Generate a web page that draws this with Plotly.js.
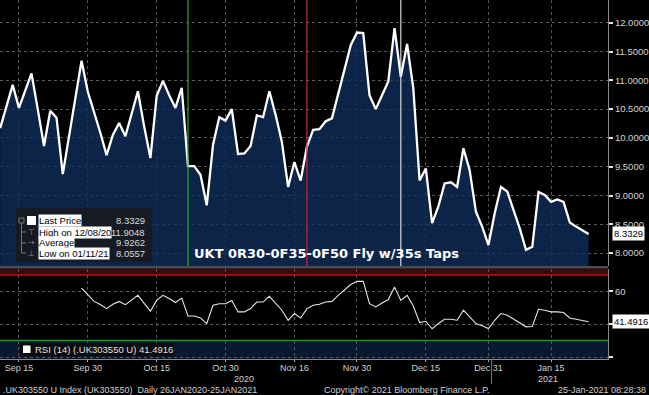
<!DOCTYPE html>
<html>
<head>
<meta charset="utf-8">
<script src="https://cdn.plot.ly/plotly-3.0.1.min.js"></script>
<style>html,body{margin:0;padding:0;background:#000;}#chart{width:649px;height:395px;}</style>
</head>
<body>
<div id="chart"></div>
<script>
// ---- data ----
const dates = [
 '2020-09-10','2020-09-11','2020-09-14','2020-09-15','2020-09-16','2020-09-17','2020-09-18',
 '2020-09-21','2020-09-22','2020-09-23','2020-09-24','2020-09-25','2020-09-28','2020-09-29','2020-09-30',
 '2020-10-01','2020-10-02','2020-10-05','2020-10-06','2020-10-07','2020-10-08','2020-10-09',
 '2020-10-12','2020-10-13','2020-10-14','2020-10-15','2020-10-16','2020-10-19','2020-10-20','2020-10-21',
 '2020-10-22','2020-10-23','2020-10-26','2020-10-27','2020-10-28','2020-10-29','2020-10-30',
 '2020-11-02','2020-11-03','2020-11-04','2020-11-05','2020-11-06','2020-11-09','2020-11-10','2020-11-11',
 '2020-11-12','2020-11-13','2020-11-16','2020-11-17','2020-11-18','2020-11-19','2020-11-20',
 '2020-11-23','2020-11-24','2020-11-25','2020-11-26','2020-11-27','2020-11-30',
 '2020-12-01','2020-12-02','2020-12-03','2020-12-04','2020-12-07','2020-12-08','2020-12-09','2020-12-10',
 '2020-12-11','2020-12-14','2020-12-15','2020-12-16','2020-12-17','2020-12-18','2020-12-21','2020-12-22',
 '2020-12-23','2020-12-24','2020-12-29','2020-12-30','2020-12-31',
 '2021-01-04','2021-01-05','2021-01-06','2021-01-07','2021-01-08','2021-01-11','2021-01-12','2021-01-13',
 '2021-01-14','2021-01-15','2021-01-18','2021-01-19','2021-01-20','2021-01-21','2021-01-22','2021-01-25'
];
const lastPrice = [
 10.17,10.55,10.92,10.52,10.83,11.12,10.50,9.86,10.47,10.35,9.37,10.03,10.68,11.34,10.80,
 10.45,10.09,9.70,10.05,10.26,10.03,10.42,10.81,10.20,9.65,10.73,10.99,10.74,10.52,10.87,
 9.51,9.51,9.36,8.83,9.88,10.36,10.30,10.50,9.72,9.73,9.86,10.39,10.36,10.81,10.40,
 9.93,9.15,9.58,9.26,9.85,10.14,10.15,10.29,10.34,10.75,11.15,11.61,11.83,11.82,10.74,
 10.50,10.74,10.98,11.9048,11.06,11.63,10.86,9.26,9.47,8.52,8.81,9.21,9.23,9.15,9.82,
 9.44,8.72,8.46,8.14,8.69,9.15,9.07,8.75,8.43,8.0557,8.11,9.06,9.01,8.89,8.93,
 8.89,8.53,8.46,8.40,8.3329
];
const rsi14 = [
 null,null,null,null,null,null,null,null,null,null,null,null,null,62.0,57.6,
 53.9,52.0,49.5,52.1,53.9,51.9,55.0,57.6,52.7,47.9,54.5,57.6,55.6,53.2,55.9,
 45.0,45.0,43.8,40.4,51.5,52.5,52.5,54.5,47.5,47.5,49.5,53.5,53.5,57.0,52.5,
 48.5,42.4,46.5,43.8,49.5,51.5,52.1,53.5,53.9,57.6,61.2,64.2,66.1,66.1,52.5,
 50.5,52.9,55.0,62.6,54.5,57.6,51.1,41.0,41.8,37.2,40.4,43.0,43.0,42.4,48.5,
 44.4,40.4,39.0,37.4,42.4,46.5,45.5,43.0,40.4,38.4,38.6,49.1,48.5,47.5,47.5,
 47.1,43.8,42.8,42.2,41.4916
];
const xTickVals = ['2020-09-15','2020-09-30','2020-10-15','2020-10-30','2020-11-16','2020-11-30','2020-12-15','2020-12-31','2021-01-15'];
const xTickText = ['Sep 15','Sep 30','Oct 15','Oct 30','Nov 16','Nov 30','Dec 15','Dec 31','Jan 15'];
const yTickVals = [8.0,8.5,9.0,9.5,10.0,10.5,11.0,11.5,12.0];
const rsiTickVals = [20,40,60];
const rsiTickText = ['','','60'];
const eventDates = ['2020-10-22','2020-11-18','2020-12-09'];
const eventColors = ['#22b022','#c8283c','#d8d8d8'];
const legendLabels = ['Last Price','High on 12/08/20','Average','Low on 01/11/21'];
const legendValues = ['8.3329','11.9048','9.9262','8.0557'];
const titleText = 'UKT 0R30-0F35-0F50 Fly w/35s Taps';

// ---- layout helpers (pixel -> paper) ----
const PW = 608, PH = 359;
const px = x => x / PW;
const py = y => (PH - y) / PH;
const F = 'Liberation Sans, Arial, sans-serif';

const shapes = [];
const ann = [];

// separator between panels
shapes.push({type:'rect', xref:'paper', yref:'paper', x0:0, x1:1, y0:py(268.5), y1:py(266), fillcolor:'#4a4d52', line:{width:0}, layer:'above'});
// RSI bands
shapes.push({type:'rect', xref:'paper', yref:'y2', x0:0, x1:1, y0:70, y1:74, fillcolor:'#3a0a0c', line:{width:0}, layer:'below'});
shapes.push({type:'rect', xref:'paper', yref:'y2', x0:0, x1:1, y0:18.79, y1:30, fillcolor:'#0a1830', line:{width:0}, layer:'below'});
shapes.push({type:'line', xref:'paper', yref:'y2', x0:0, x1:1, y0:70, y1:70, line:{color:'#b81414', width:1.5}});
shapes.push({type:'line', xref:'paper', yref:'y2', x0:0, x1:1, y0:30, y1:30, line:{color:'#1c9c1c', width:1.5}});
// event lines in the main panel
eventDates.forEach((d,i) => {
  shapes.push({type:'line', xref:'x', yref:'paper', x0:d, x1:d, y0:py(266), y1:1, line:{color:eventColors[i], width:1.2}, layer:'above'});
});
// year separator
shapes.push({type:'line', xref:'x', yref:'paper', x0:78.5, x1:78.5, y0:py(359), y1:py(384), line:{color:'#777', width:1}});

// legend box
shapes.push({type:'rect', xref:'paper', yref:'paper', x0:px(16), x1:px(152), y0:py(262), y1:py(208), fillcolor:'rgba(24,27,33,0.92)', line:{width:0}, layer:'above'});
shapes.push({type:'rect', xref:'paper', yref:'paper', x0:px(27), x1:px(36), y0:py(225), y1:py(216), fillcolor:'#ffffff', line:{width:0}, layer:'above'});
shapes.push({type:'rect', xref:'paper', yref:'paper', x0:px(19), x1:px(24), y0:py(223), y1:py(218), fillcolor:'rgba(0,0,0,0)', line:{color:'#777', width:1}, layer:'above'});
shapes.push({type:'line', xref:'paper', yref:'paper', x0:px(21.5), x1:px(21.5), y0:py(253), y1:py(223), line:{color:'#777', width:1}, layer:'above'});
[232,243,253].forEach(y => shapes.push({type:'line', xref:'paper', yref:'paper', x0:px(21.5), x1:px(26), y0:py(y), y1:py(y), line:{color:'#777', width:1}, layer:'above'}));
const rowsY = [220.7, 232, 242.7, 253.3];
const glyphs = ['', '⊤', '→', '⊥'];
legendLabels.forEach((t,i) => {
  ann.push({xref:'paper', yref:'paper', x:px(38), y:py(rowsY[i]), xanchor:'left', yanchor:'middle', text:t, showarrow:false,
    font:{family:F, size:9.5, color:'#000'}, bgcolor:'#ffffff', borderpad:0});
  ann.push({xref:'paper', yref:'paper', x:px(147), y:py(rowsY[i]), xanchor:'right', yanchor:'middle', text:legendValues[i], showarrow:false,
    font:{family:F, size:9.5, color:'#d8d8d8'}});
  if (glyphs[i]) ann.push({xref:'paper', yref:'paper', x:px(31), y:py(rowsY[i]), xanchor:'center', yanchor:'middle', text:glyphs[i], showarrow:false,
    font:{family:'DejaVu Sans', size:8, color:'#888'}});
});

// title
ann.push({xref:'paper', yref:'paper', x:px(326), y:py(253), xanchor:'center', yanchor:'middle', text:'<b>'+titleText+'</b>', showarrow:false,
  font:{family:'DejaVu Sans', size:13, color:'#ffffff'}});

// last value labels
ann.push({xref:'paper', yref:'y', x:px(612), y:lastPrice[lastPrice.length-1], xanchor:'left', yanchor:'middle', text:'8.3329', showarrow:false,
  font:{family:F, size:9.5, color:'#000'}, bgcolor:'#ffffff', borderpad:1});
ann.push({xref:'paper', yref:'y2', x:px(612), y:rsi14[rsi14.length-1], xanchor:'left', yanchor:'middle', text:'41.4916', showarrow:false,
  font:{family:F, size:9.5, color:'#000'}, bgcolor:'#ffffff', borderpad:1});

// RSI legend
shapes.push({type:'rect', xref:'paper', yref:'paper', x0:px(20), x1:px(174), y0:py(356), y1:py(343), fillcolor:'#0c0c0e', line:{width:0}, layer:'above'});
shapes.push({type:'rect', xref:'paper', yref:'paper', x0:px(23), x1:px(30.5), y0:py(353), y1:py(345.5), fillcolor:'#ffffff', line:{width:0}, layer:'above'});
ann.push({xref:'paper', yref:'paper', x:px(33), y:py(349.5), xanchor:'left', yanchor:'middle', text:'RSI (14) (.UK303550 U) 41.4916', showarrow:false,
  font:{family:F, size:9.5, color:'#e0e0e0'}});

// year labels
ann.push({xref:'paper', yref:'paper', x:px(244), y:py(379), xanchor:'center', yanchor:'middle', text:'2020', showarrow:false, font:{family:F, size:9, color:'#d0d0d0'}});
ann.push({xref:'paper', yref:'paper', x:px(548), y:py(379), xanchor:'center', yanchor:'middle', text:'2021', showarrow:false, font:{family:F, size:9, color:'#d0d0d0'}});

// footer
ann.push({xref:'paper', yref:'paper', x:px(1), y:py(389.5), xanchor:'left', yanchor:'middle', text:'.UK303550 U Index (UK303550)  Daily 26JAN2020-25JAN2021', showarrow:false, font:{family:F, size:9, color:'#d0d0d0'}});
ann.push({xref:'paper', yref:'paper', x:px(322), y:py(389.5), xanchor:'left', yanchor:'middle', text:'Copyright© 2021 Bloomberg Finance L.P.', showarrow:false, font:{family:F, size:9, color:'#d0d0d0'}});
ann.push({xref:'paper', yref:'paper', x:px(648), y:py(389.5), xanchor:'right', yanchor:'middle', text:'25-Jan-2021 08:28:38', showarrow:false, font:{family:F, size:9, color:'#d0d0d0'}});

const traces = [
  {x:dates, y:lastPrice, type:'scatter', mode:'lines', fill:'tozeroy', fillcolor:'rgba(15,45,90,0.8)',
   line:{color:'#ffffff', width:2.3}, xaxis:'x', yaxis:'y', hoverinfo:'skip'},
  {x:dates, y:rsi14, type:'scatter', mode:'lines', line:{color:'#e6e6e6', width:1.1},
   xaxis:'x', yaxis:'y2', hoverinfo:'skip', connectgaps:false}
];

const layout = {
  width:649, height:395,
  margin:{l:0, r:41, t:0, b:36, pad:0},
  paper_bgcolor:'#000', plot_bgcolor:'#000',
  showlegend:false,
  xaxis:{type:'category', range:[-0.03, 97.1], anchor:'y2', tickvals:xTickVals, ticktext:xTickText,
    ticks:'outside', ticklen:2, tickcolor:'#aaa', showline:true, linecolor:'#8a8a8a', linewidth:1,
    ticklabelstandoff:-2,
    showgrid:true, gridcolor:'#555', griddash:'dot', gridwidth:1,
    tickfont:{family:F, size:9, color:'#d0d0d0'}, tickangle:0, fixedrange:true},
  yaxis:{domain:[py(266), 1], range:[7.776, 12.394], side:'right', anchor:'x',
    tickvals:yTickVals, tickformat:'.4f', ticks:'outside', ticklen:4, tickwidth:2, tickcolor:'#e0e0e0',
    showline:true, linecolor:'#8a8a8a', showgrid:true, gridcolor:'#5a5a5a', griddash:'dot', zeroline:false,
    tickfont:{family:F, size:9.5, color:'#d4d4d4'}, fixedrange:true},
  yaxis2:{domain:[0, py(268.5)], range:[18.79, 73.94], side:'right', anchor:'x',
    tickvals:rsiTickVals, ticktext:rsiTickText, ticks:'outside', ticklen:4, tickwidth:2, tickcolor:'#e0e0e0',
    showline:true, linecolor:'#8a8a8a', showgrid:true, gridcolor:'#5a5a5a', griddash:'dot', zeroline:false,
    tickfont:{family:F, size:9.5, color:'#d4d4d4'}, fixedrange:true},
  shapes:shapes,
  annotations:ann
};

Plotly.newPlot('chart', traces, layout, {displayModeBar:false, staticPlot:true});
</script>
</body>
</html>
